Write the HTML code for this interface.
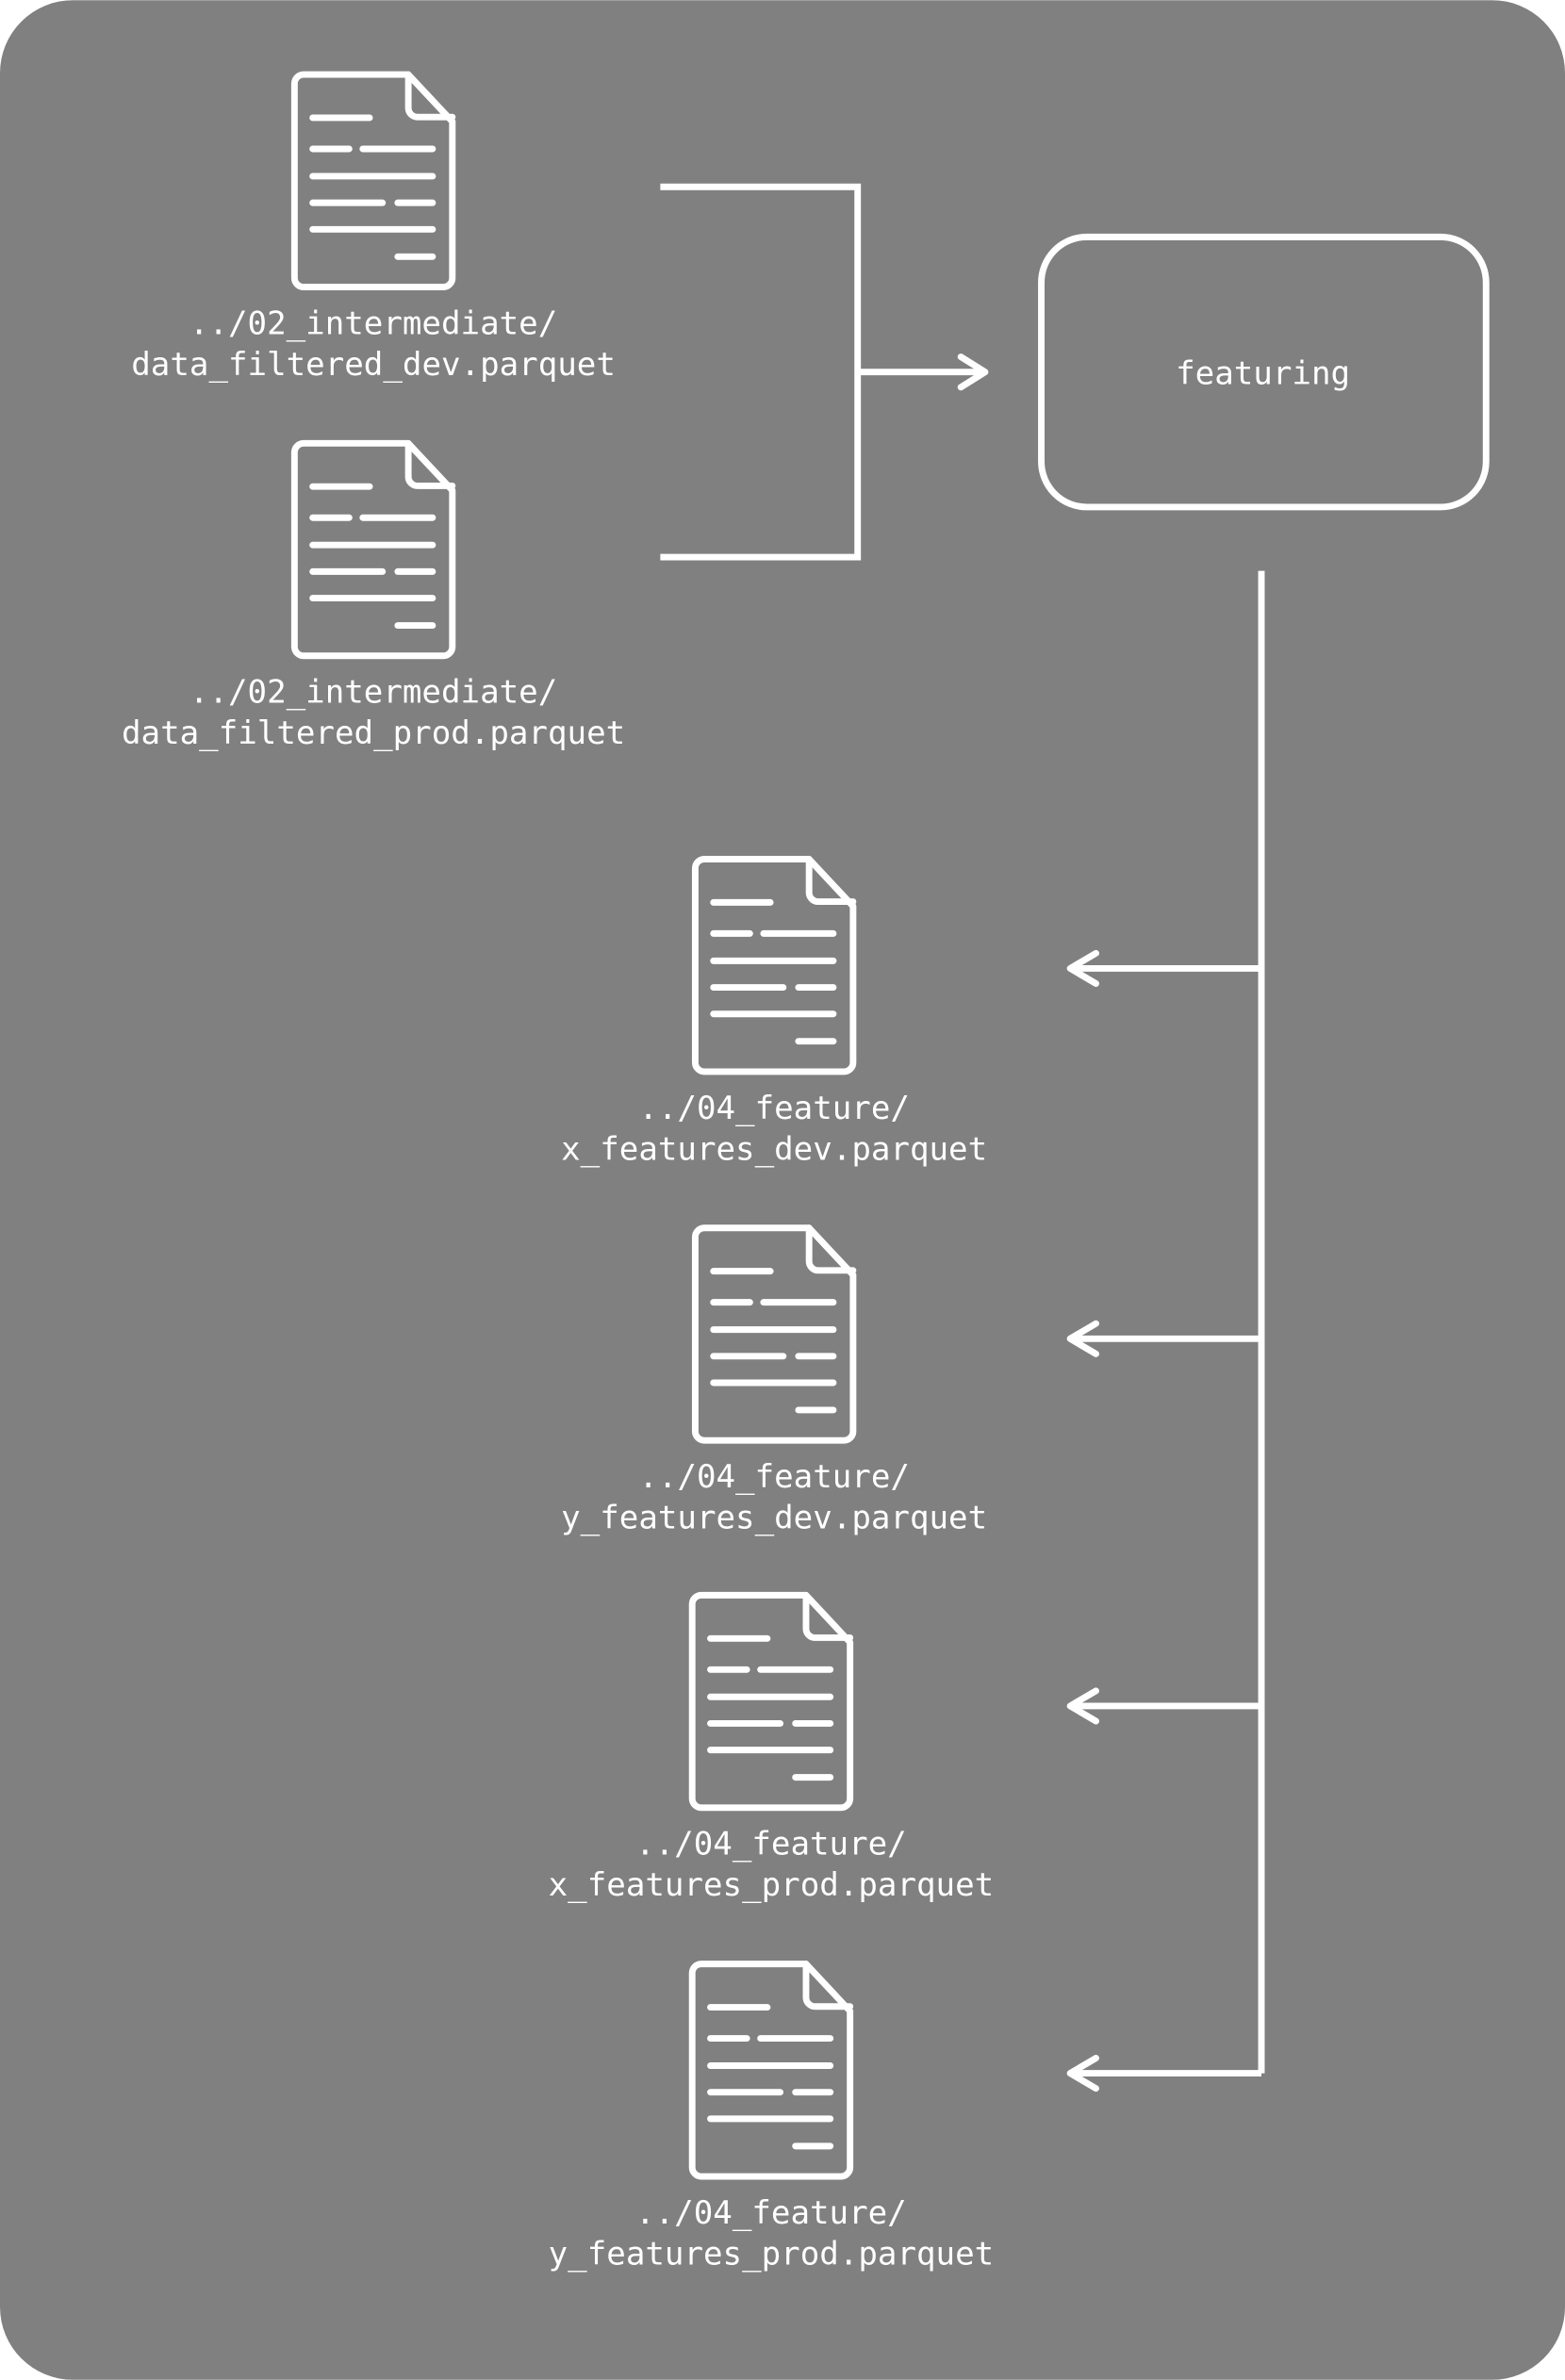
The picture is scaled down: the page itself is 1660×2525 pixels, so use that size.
<!DOCTYPE html>
<html><head><meta charset="utf-8"><style>
html,body{margin:0;padding:0;background:#fff;}
svg{display:block;}
text{font-family:"DejaVu Sans Mono","Liberation Mono",monospace;font-size:21.2px;fill:#fff;text-anchor:middle;}
</style></head><body>
<svg width="1660" height="2525" viewBox="0 0 1031 1568" xmlns="http://www.w3.org/2000/svg">
<defs>
<g id="doc" fill="none" stroke="#fff" stroke-width="4.3" stroke-linecap="round" stroke-linejoin="round">
<path d="M6,0 H75 L104,31 V134 a6,6 0 0 1 -6,6 H6 a6,6 0 0 1 -6,-6 V6 a6,6 0 0 1 6,-6 Z"/>
<path d="M75,0 V22 a6,6 0 0 0 6,6 H104"/>
<path d="M12,28.5 H49.5 M12,49 H36 M45,49 H91 M12,67 H91 M12,84.5 H58 M68,84.5 H91 M12,102 H91 M68,120 H91"/>
</g>
</defs>
<rect x="0" y="0" width="1031" height="1568" rx="48" fill="#808080"/>
<use href="#doc" x="194" y="49"/>
<use href="#doc" x="194" y="292"/>
<use href="#doc" x="458" y="566"/>
<use href="#doc" x="458" y="809"/>
<use href="#doc" x="456" y="1051"/>
<use href="#doc" x="456" y="1294"/>
<text x="246" y="220">../02_intermediate/</text>
<text x="246" y="247">data_filtered_dev.parquet</text>
<text x="246" y="463">../02_intermediate/</text>
<text x="246" y="490">data_filtered_prod.parquet</text>
<text x="510" y="737">../04_feature/</text>
<text x="510" y="764">x_features_dev.parquet</text>
<text x="510" y="980">../04_feature/</text>
<text x="510" y="1007">y_features_dev.parquet</text>
<text x="508" y="1222">../04_feature/</text>
<text x="508" y="1249">x_features_prod.parquet</text>
<text x="508" y="1465">../04_feature/</text>
<text x="508" y="1492">y_features_prod.parquet</text>
<g fill="none" stroke="#fff" stroke-width="4.3">
<path d="M435,123 H565 V367 H435"/>
<path d="M565,245 H648"/>
<path d="M633,235 L649,245 L633,255" stroke-linecap="round" stroke-linejoin="round"/>
<rect x="686" y="156" width="293" height="178" rx="30"/>
<path d="M831,376 V1366"/>
<path d="M831,638 H706 M831,882 H706 M831,1124 H706 M831,1366 H706"/>
<g stroke-linecap="round" stroke-linejoin="round">
<path d="M722,628 L705,638 L722,648"/>
<path d="M722,872 L705,882 L722,892"/>
<path d="M722,1114 L705,1124 L722,1134"/>
<path d="M722,1356 L705,1366 L722,1376"/>
</g>
</g>
<text x="832" y="253">featuring</text>
</svg>
</body></html>
